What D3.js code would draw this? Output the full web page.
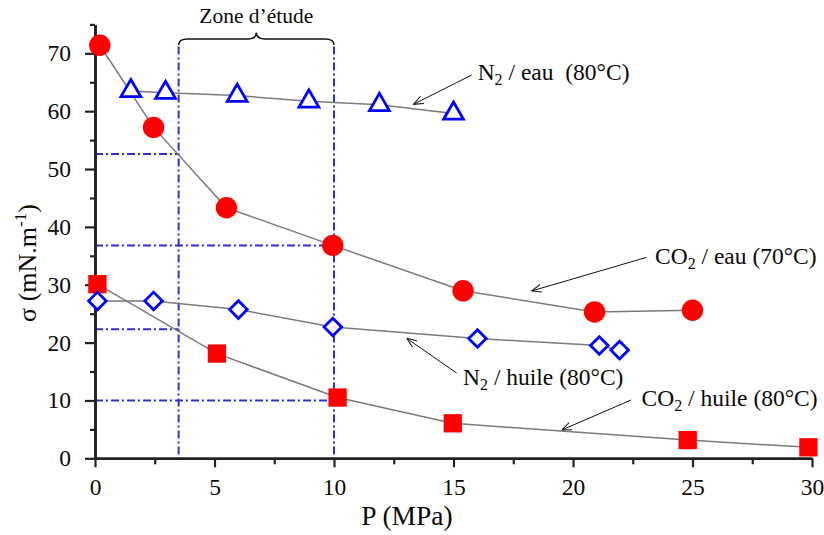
<!DOCTYPE html>
<html>
<head>
<meta charset="utf-8">
<script src="https://cdn.jsdelivr.net/npm/d3@7"></script>
<style>
  html, body { margin: 0; padding: 0; background: #fff; }
  svg { display: block; }
  text { font-family: "Liberation Serif", "Times New Roman", serif; fill: #0a0a0a; }
</style>
</head>
<body>
<svg id="chart" width="824" height="535"></svg>
<script>
// ---- Data ----
const co2EauP   = [0.2, 2.45, 5.5, 9.95, 15.4, 20.9, 25.0];
const co2EauS   = [71.4, 57.2, 43.3, 36.8, 28.95, 25.3, 25.6];

const n2EauP    = [1.5, 2.95, 5.95, 8.95, 11.9, 15.0];
const n2EauS    = [63.5, 63.2, 62.7, 61.7, 61.1, 59.6];

const n2HuileP  = [0.1, 2.45, 6.0, 9.95, 16.0, 21.1, 21.95];
const n2HuileS  = [27.2, 27.2, 25.7, 22.7, 20.7, 19.5, 18.7];

const co2HuileP = [0.1, 5.1, 10.15, 14.97, 24.8, 29.85];
const co2HuileS = [30.1, 18.1, 10.5, 6.05, 3.15, 1.9];

const xMajorTicks = [0, 5, 10, 15, 20, 25, 30];
const xMinorTicks = [2.5, 7.5, 12.5, 17.5, 22.5, 27.5];
const yMajorTicks = [0, 10, 20, 30, 40, 50, 60, 70];
const yMinorTicks = [5, 15, 25, 35, 45, 55, 65, 75];

// study zone (MPa) and reading guides [P, sigma]
const zoneP = [3.5, 10];
const zoneTop = 71.2;
const guideP = [3.5, 3.5, 10, 10];
const guideS = [52.6, 22.3, 36.8, 10.0];

// annotations: label, subscript split, text anchor (P, sigma), arrow start, arrow end
const annoLabels = [["N", "2", " / eau  (80°C)"], ["CO", "2", " / eau (70°C)"], ["N", "2", " / huile (80°C)"], ["CO", "2", " / huile (80°C)"]];
const annoTextP  = [16.01, 23.43, 15.40, 22.87];
const annoTextS  = [65.38, 33.58, 12.67, 9.04];
const arrowFromP = [15.76, 23.08, 15.13, 22.43];
const arrowFromS = [66.25, 34.74, 14.74, 10.08];
const arrowToP   = [13.32, 18.27, 13.04, 19.53];
const arrowToS   = [61.18, 28.92, 20.74, 4.89];

// ---- Chart ----
const svg = d3.select("#chart");
const x = d3.scaleLinear().domain([0, 30]).range([95, 812]);
const y = d3.scaleLinear().domain([0, 75]).range([458.3, 24.4]);

const defs = svg.append("defs");
defs.append("marker")
  .attr("id", "arr").attr("viewBox", "0 0 10 10")
  .attr("refX", 10).attr("refY", 5)
  .attr("markerWidth", 10).attr("markerHeight", 10)
  .attr("markerUnits", "userSpaceOnUse").attr("orient", "auto")
  .append("path").attr("d", "M0,1 L10,5 L0,9")
  .attr("fill", "none").attr("stroke", "#111").attr("stroke-width", 1);

// guides (blue dash-dot)
const guideColor = "#3030d0";
const dash = "8,3,2,3";
const g = svg.append("g");
zoneP.forEach(p => {
  g.append("line").attr("x1", x(p)).attr("x2", x(p))
    .attr("y1", y(zoneTop)).attr("y2", y(0))
    .attr("stroke", guideColor).attr("stroke-width", 2).attr("stroke-dasharray", dash);
});
guideP.forEach((p, i) => {
  g.append("line").attr("x1", x(0)).attr("x2", x(p))
    .attr("y1", y(guideS[i])).attr("y2", y(guideS[i]))
    .attr("stroke", guideColor).attr("stroke-width", 2).attr("stroke-dasharray", dash);
});

// brace + label
const bx1 = x(zoneP[0]), bx2 = x(zoneP[1]), bxm = (bx1 + bx2) / 2;
const yb = y(zoneTop) - 1.5, yh = yb - 6, yt = yh - 6.5;
svg.append("path")
  .attr("d", `M${bx1},${yb} Q${bx1},${yh} ${bx1 + 9},${yh} L${bxm - 9},${yh} Q${bxm},${yh} ${bxm},${yt} Q${bxm},${yh} ${bxm + 9},${yh} L${bx2 - 9},${yh} Q${bx2},${yh} ${bx2},${yb}`)
  .attr("fill", "none").attr("stroke", "#111").attr("stroke-width", 1.5);
svg.append("text").attr("x", bxm).attr("y", 22.5).attr("text-anchor", "middle")
  .attr("font-size", 21.5).text("Zone d’étude");

// axes
const axisColor = "#222";
const yAxisMaj = d3.axisLeft(y).tickValues(yMajorTicks).tickSize(10).tickSizeOuter(0).tickPadding(14);
const yAxisMin = d3.axisLeft(y).tickValues(yMinorTicks).tickSize(5).tickSizeOuter(0).tickFormat("");
const xAxisMaj = d3.axisBottom(x).tickValues(xMajorTicks).tickSize(9).tickSizeOuter(0).tickPadding(11);
const xAxisMin = d3.axisBottom(x).tickValues(xMinorTicks).tickSize(6).tickSizeOuter(0).tickFormat("");

function styleAxis(sel) {
  sel.attr("font-family", null).attr("font-size", null);
  sel.selectAll("path.domain").attr("stroke", axisColor).attr("stroke-width", 2.6);
  sel.selectAll(".tick line").attr("stroke", axisColor).attr("stroke-width", 2.2);
  sel.selectAll(".tick text").style("font-size", "23.5px").attr("fill", "#000");
}
const gy = svg.append("g").attr("transform", `translate(${x(0)},0)`);
gy.append("g").call(yAxisMin).call(styleAxis);
gy.append("g").call(yAxisMaj).call(styleAxis);
const gx = svg.append("g").attr("transform", `translate(0,${y(0)})`);
gx.append("g").call(xAxisMin).call(styleAxis);
gx.append("g").call(xAxisMaj).call(styleAxis);

// axis titles
svg.append("text").attr("x", 407).attr("y", 525).attr("text-anchor", "middle")
  .attr("font-size", 27.5).text("P (MPa)");
const yt2 = svg.append("text").attr("transform", "translate(35.5,263) rotate(-90)")
  .attr("text-anchor", "middle").attr("font-size", 26);
yt2.append("tspan").text("σ (mN.m");
yt2.append("tspan").attr("font-size", 17).attr("dy", -10).text("-1");
yt2.append("tspan").attr("dy", 10).text(")");

// series lines
const series = [
  { P: co2EauP, S: co2EauS, sym: d3.symbolCircle, size: 360, fill: "#ff0000", stroke: "none", rot: 0 },
  { P: co2HuileP, S: co2HuileS, sym: d3.symbolSquare, size: 335, fill: "#ff0000", stroke: "none", rot: 0 },
  { P: n2EauP, S: n2EauS, sym: d3.symbolTriangle, size: 170, fill: "#fff", stroke: "#0000ff", rot: 0 },
  { P: n2HuileP, S: n2HuileS, sym: d3.symbolSquare, size: 155, fill: "#fff", stroke: "#0000ff", rot: 45 }
];
const line = d3.line().x(d => x(d[0])).y(d => y(d[1]));
series.forEach(s => {
  svg.append("path").datum(s.P.map((p, i) => [p, s.S[i]]))
    .attr("d", line).attr("fill", "none").attr("stroke", "#7a7a7a").attr("stroke-width", 1.5);
});
series.forEach(s => {
  svg.append("g").selectAll("path").data(s.P.map((p, i) => [p, s.S[i]])).join("path")
    .attr("d", d3.symbol().type(s.sym).size(s.size)())
    .attr("transform", d => `translate(${x(d[0])},${y(d[1])}) rotate(${s.rot})`)
    .attr("fill", s.fill).attr("stroke", s.stroke).attr("stroke-width", 2.8);
});

// annotations
annoLabels.forEach((lab, i) => {
  svg.append("line")
    .attr("x1", x(arrowFromP[i])).attr("y1", y(arrowFromS[i]))
    .attr("x2", x(arrowToP[i])).attr("y2", y(arrowToS[i]))
    .attr("stroke", "#111").attr("stroke-width", 1).attr("marker-end", "url(#arr)");
  const t = svg.append("text").attr("x", x(annoTextP[i])).attr("y", y(annoTextS[i]))
    .attr("font-size", 23.5).style("white-space", "pre");
  t.append("tspan").text(lab[0]);
  t.append("tspan").attr("font-size", 16).attr("dy", 5).text(lab[1]);
  t.append("tspan").attr("dy", -5).text(lab[2]);
});
</script>
</body>
</html>
